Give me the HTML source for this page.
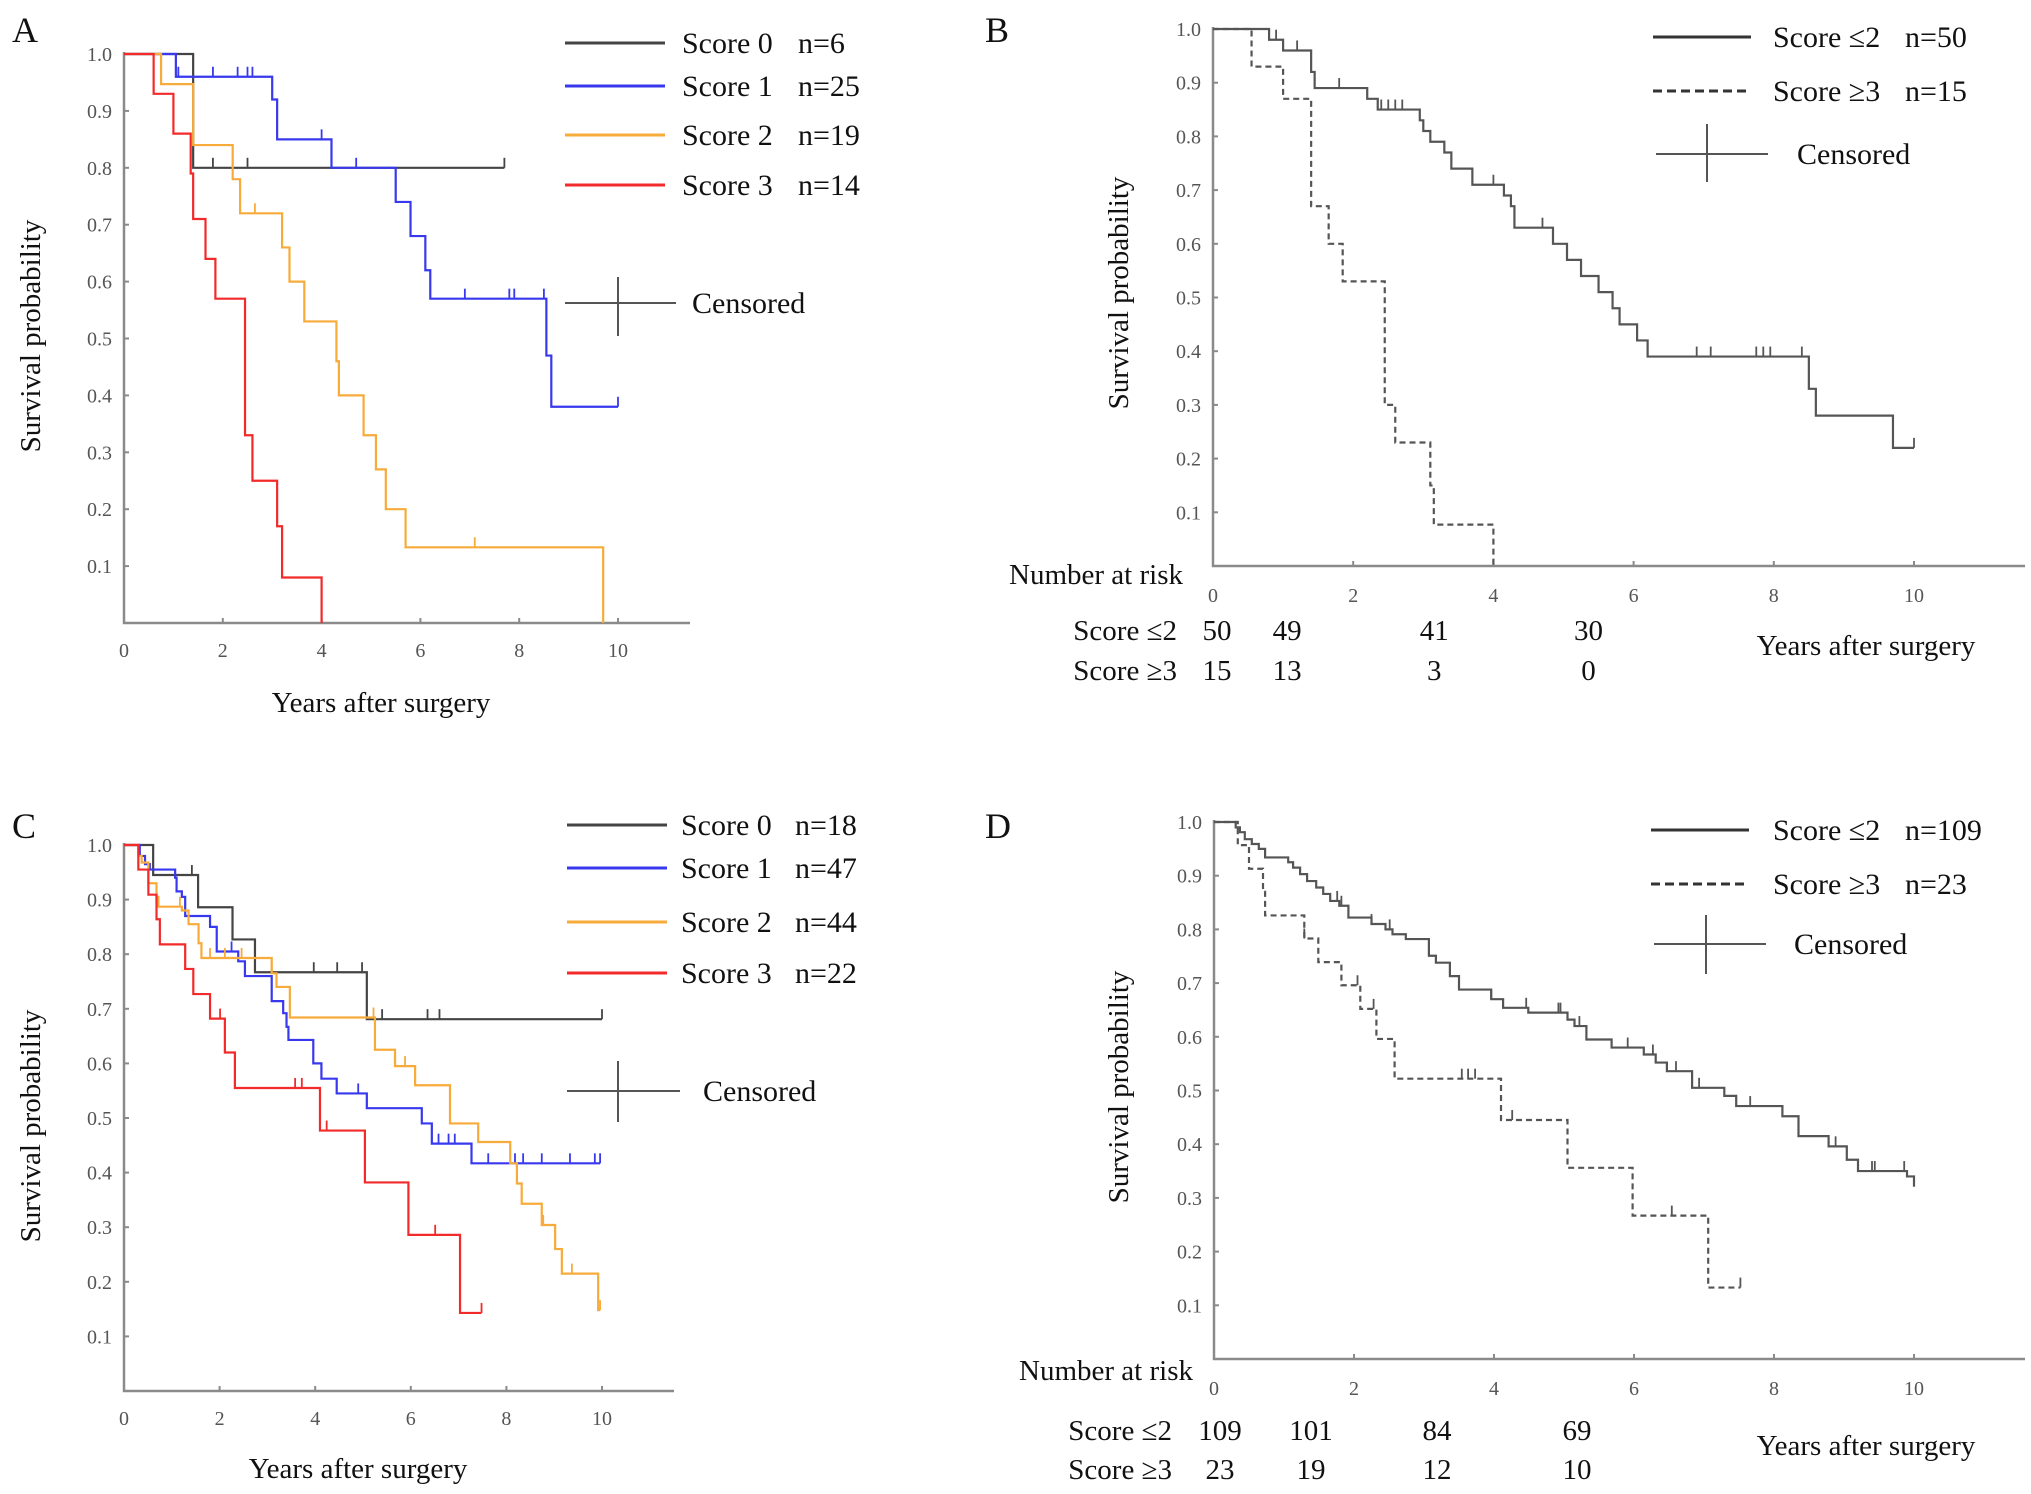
<!DOCTYPE html>
<html><head><meta charset="utf-8">
<style>
html,body{margin:0;padding:0;background:#fff;}
svg{display:block;font-family:"Liberation Serif",serif;}
</style></head>
<body>
<svg id="fig" width="2031" height="1494" viewBox="0 0 2031 1494" xmlns="http://www.w3.org/2000/svg">
<rect width="2031" height="1494" fill="#fff"/>
</svg>
<script>
// ---------- Panel A data ----------
const a0Times=[1.4], a0Surv=[0.8], a0Cens=[1.8,2.5,7.7], a0End=7.7;
const a1Times=[1.05,3.0,3.1,4.2,5.5,5.8,6.1,6.2,8.55,8.65];
const a1Surv=[0.96,0.92,0.85,0.80,0.74,0.68,0.62,0.57,0.47,0.38];
const a1Cens=[1.1,1.8,2.3,2.5,2.6,4.0,4.7,6.9,7.8,7.9,8.5,10], a1End=10;
const a2Times=[0.75,1.4,2.2,2.35,3.2,3.35,3.65,4.3,4.35,4.85,5.1,5.3,5.7,9.7];
const a2Surv=[0.947,0.84,0.78,0.72,0.66,0.6,0.53,0.46,0.40,0.33,0.27,0.2,0.133,0];
const a2Cens=[2.65,7.1], a2End=9.7;
const a3Times=[0.6,1.0,1.35,1.4,1.65,1.85,2.45,2.6,3.1,3.2,4.0];
const a3Surv=[0.93,0.86,0.79,0.71,0.64,0.57,0.33,0.25,0.17,0.08,0];
const a3Cens=[], a3End=4.0;
// ---------- Panel B data ----------
const b1Times=[0.8,1.0,1.4,1.45,2.2,2.35,2.95,3.0,3.1,3.3,3.4,3.7,4.15,4.25,4.3,4.85,5.05,5.25,5.5,5.7,5.8,6.05,6.2,8.5,8.6,9.7];
const b1Surv=[0.98,0.96,0.92,0.89,0.87,0.85,0.83,0.81,0.79,0.77,0.74,0.71,0.69,0.67,0.63,0.6,0.57,0.54,0.51,0.48,0.45,0.42,0.39,0.33,0.28,0.22];
const b1Cens=[0.8,0.9,1.2,1.8,2.4,2.5,2.6,2.7,4.0,4.7,6.9,7.1,7.75,7.85,7.95,8.4,10], b1End=10;
const b2Times=[0.55,1.0,1.4,1.65,1.85,2.45,2.6,3.1,3.15,4.0];
const b2Surv=[0.93,0.87,0.67,0.6,0.53,0.3,0.23,0.15,0.077,0];
const b2Cens=[], b2End=4.0;
const bRiskTimes=[0,1,3.1,5.3];
const bRisk1=[50,49,41,30];
const bRisk2=[15,13,3,0];
// ---------- Panel C data ----------
const c0Times=[0.61,1.55,2.27,2.74,5.08], c0Surv=[0.945,0.886,0.827,0.767,0.681];
const c0Cens=[1.42,3.97,4.46,4.98,5.4,6.35,6.6,10], c0End=10;
const c1Times=[0.33,0.44,0.54,1.07,1.10,1.21,1.28,1.80,1.94,2.39,2.53,3.09,3.33,3.40,3.44,3.96,4.13,4.45,5.08,6.23,6.44,7.27];
const c1Surv=[0.98,0.965,0.955,0.94,0.915,0.905,0.87,0.85,0.805,0.787,0.76,0.714,0.692,0.667,0.643,0.60,0.572,0.545,0.518,0.49,0.453,0.417];
const c1Cens=[2.25,4.90,6.58,6.79,6.92,7.62,8.18,8.35,8.74,9.33,9.85,9.96], c1End=9.96;
const c2Times=[0.30,0.37,0.51,0.68,0.72,1.21,1.35,1.56,1.62,3.09,3.19,3.47,5.25,5.67,6.09,6.82,7.41,8.08,8.22,8.32,8.74,9.02,9.16,9.92];
const c2Surv=[0.98,0.968,0.93,0.905,0.887,0.88,0.855,0.82,0.793,0.765,0.74,0.684,0.625,0.595,0.56,0.49,0.456,0.417,0.38,0.343,0.304,0.26,0.215,0.148];
const c2Cens=[1.17,1.80,2.11,2.46,3.09,5.22,5.88,8.77,9.37,9.96], c2End=9.96;
const c3Times=[0.30,0.51,0.68,0.75,1.28,1.45,1.80,2.11,2.32,4.10,5.04,5.95,7.03];
const c3Surv=[0.955,0.909,0.864,0.818,0.773,0.727,0.682,0.620,0.555,0.477,0.382,0.286,0.143];
const c3Cens=[2.01,3.58,3.72,4.24,6.51,7.48], c3End=7.48;
// ---------- Panel D data ----------
const d1Times=[0.31,0.37,0.44,0.54,0.64,0.73,1.06,1.13,1.23,1.33,1.46,1.56,1.66,1.79,1.92,2.25,2.45,2.55,2.74,3.07,3.17,3.37,3.50,3.96,4.13,4.49,5.05,5.15,5.32,5.68,6.14,6.31,6.47,6.83,7.29,7.46,8.12,8.35,8.78,9.04,9.20,9.90,10.0];
const d1Surv=[0.99,0.981,0.968,0.959,0.95,0.934,0.925,0.915,0.903,0.89,0.878,0.866,0.853,0.844,0.822,0.81,0.80,0.791,0.782,0.751,0.738,0.713,0.688,0.67,0.654,0.645,0.632,0.62,0.595,0.58,0.567,0.552,0.536,0.505,0.49,0.471,0.452,0.415,0.396,0.371,0.35,0.34,0.321];
const d1Cens=[1.76,1.82,2.25,2.51,3.96,4.46,4.92,4.95,5.22,5.91,6.27,6.60,6.93,7.66,8.88,9.40,9.44,9.86,10], d1End=10;
const d2Times=[0.34,0.50,0.70,0.73,1.29,1.49,1.82,2.09,2.32,2.58,4.10,5.05,5.98,7.06];
const d2Surv=[0.957,0.913,0.87,0.826,0.783,0.739,0.696,0.652,0.596,0.522,0.445,0.356,0.267,0.133];
const d2Cens=[1.29,2.05,2.28,3.54,3.63,3.73,4.26,6.54,7.52], d2End=7.52;
const dRiskTimes=[0,1.3,3.1,5.1];
const dRisk1=[109,101,84,69];
const dRisk2=[23,19,12,10];
// ---------- common ticks ----------
const yTickLabels=["0.1","0.2","0.3","0.4","0.5","0.6","0.7","0.8","0.9","1.0"];
const yTickVals=[0.1,0.2,0.3,0.4,0.5,0.6,0.7,0.8,0.9,1.0];
const xTickVals=[0,2,4,6,8,10];

const NS="http://www.w3.org/2000/svg";
const svg=document.getElementById('fig');
function mk(tag,attrs,parent,txt){const e=document.createElementNS(NS,tag);for(const k in attrs)e.setAttribute(k,attrs[k]);if(txt!==undefined)e.textContent=txt;(parent||svg).appendChild(e);return e;}

function panel(id,g){
  const grp=mk('g',{});
  
  
  const X=t=>g.x0+(g.x10-g.x0)*t/10;
  const Y=s=>g.yb+(g.yt-g.yb)*s;
  const ax=mk('path',{d:`M${g.x0},${g.yt-2} L${g.x0},${g.yb} L${g.xe},${g.yb}`,fill:'none',stroke:'#8a8a8a','stroke-width':2.5},grp);
  
  
  yTickVals.forEach((v,i)=>{
    mk('line',{x1:g.x0,x2:g.x0+5,y1:Y(v),y2:Y(v),stroke:'#8a8a8a','stroke-width':2},grp);
    const t=mk('text',{x:g.x0-12,y:Y(v)+7,'text-anchor':'end','font-size':20,fill:'#555'},grp,yTickLabels[i]);
    
    
  });
  xTickVals.forEach(v=>{
    mk('line',{x1:X(v),x2:X(v),y1:g.yb,y2:g.yb-5,stroke:'#8a8a8a','stroke-width':2},grp);
    const t=mk('text',{x:X(v),y:g.yb+g.xtOff,'text-anchor':'middle','font-size':20,fill:'#555'},grp,String(v));
    
    
  });
  return {grp,X,Y};
}
function km(p,times,surv,cens,end,color,dash,name){
  let d=`M${p.X(0)},${p.Y(1)}`;let s=1;
  times.forEach((t,i)=>{d+=` L${p.X(t)},${p.Y(s)} L${p.X(t)},${p.Y(surv[i])}`;s=surv[i];});
  d+=` L${p.X(end)},${p.Y(s)}`;
  const path=mk('path',{d,fill:'none',stroke:color,'stroke-width':2.2,'stroke-dasharray':dash||'none'},p.grp);
  
  
  cens.forEach(c=>{
    let sv=1;times.forEach((t,i)=>{if(t<=c)sv=surv[i];});
    const m=mk('line',{x1:p.X(c),x2:p.X(c),y1:p.Y(sv),y2:p.Y(sv)-10,stroke:color,'stroke-width':1.8},p.grp);
    
    
  });
}
function txt(x,y,s,size,name,anchor,extra){
  const t=mk('text',Object.assign({x,y,'font-size':size,fill:'#111','text-anchor':anchor||'start'},extra||{}),svg,s);
  
  
  return t;
}
function legLine(x1,x2,y,color,dash,name){
  const l=mk('line',{x1,x2,y1:y,y2:y,stroke:color,'stroke-width':3,'stroke-dasharray':dash||'none'});
  
  
}
function censLeg(x1,x2,y,vx,vy1,vy2,tx,name){
  const g=mk('g',{});
  
  
  mk('line',{x1,x2,y1:y,y2:y,stroke:'#555','stroke-width':2},g);
  mk('line',{x1:vx,x2:vx,y1:vy1,y2:vy2,stroke:'#555','stroke-width':2},g);
  const t=mk('text',{x:tx,y:y+10,'font-size':30,fill:'#111'},g,'Censored');
}
function ytitle(x,y,name){txt(x,y,'Survival probability',29,name,'middle',{transform:`rotate(-90 ${x} ${y})`,dy:10});}

const BLK='#444', BLU='#3838ee', ORA='#f7ab3a', RED='#f22a2a';

// Panel A
const pA=panel('a',{x0:124,x10:618,yt:54,yb:623,xe:690,xtOff:34});
km(pA,a0Times,a0Surv,a0Cens,a0End,BLK,null,'a-score0-curve');
km(pA,a1Times,a1Surv,a1Cens,a1End,BLU,null,'a-score1-curve');
km(pA,a2Times,a2Surv,a2Cens,a2End,ORA,null,'a-score2-curve');
km(pA,a3Times,a3Surv,a3Cens,a3End,RED,null,'a-score3-curve');
txt(12,42,'A',36,'panel-label-a');
ytitle(30,336,'a-y-axis-title');
txt(381,712,'Years after surgery',29,'a-x-axis-title','middle');
[[43,BLK,'Score 0','n=6'],[86,BLU,'Score 1','n=25'],[135,ORA,'Score 2','n=19'],[185,RED,'Score 3','n=14']].forEach((r,i)=>{
  legLine(565,665,r[0],r[1],null,'a-legend-line-'+i);
  txt(682,r[0]+10,r[2],30,'a-legend-label-'+i);
  txt(798,r[0]+10,r[3],30,'a-legend-n-'+i);
});
censLeg(565,676,303,618,277,336,692,'a-censored-legend');

// Panel B
const pB=panel('b',{x0:1213,x10:1914,yt:29,yb:566,xe:2025,xtOff:36});
km(pB,b1Times,b1Surv,b1Cens,b1End,'#555',null,'b-score-le2-curve');
km(pB,b2Times,b2Surv,b2Cens,b2End,'#555','6,4','b-score-ge3-curve');
txt(985,42,'B',36,'panel-label-b');
ytitle(1118,293,'b-y-axis-title');
legLine(1653,1751,37,'#333',null,'b-legend-solid');
legLine(1653,1751,91,'#333','9,5','b-legend-dashed');
txt(1773,47,'Score ≤2',30,'b-legend-label-le2');txt(1905,47,'n=50',30,'b-legend-n-le2');
txt(1773,101,'Score ≥3',30,'b-legend-label-ge3');txt(1905,101,'n=15',30,'b-legend-n-ge3');
censLeg(1656,1768,154,1707,124,182,1797,'b-censored-legend');
txt(1183,584,'Number at risk',29,'b-number-at-risk-title','end');
txt(1177,640,'Score ≤2',29,'b-risk-row-le2','end');
txt(1177,680,'Score ≥3',29,'b-risk-row-ge3','end');
bRiskTimes.forEach((t,i)=>{
  txt(pB.X(t)+4,640,String(bRisk1[i]),29,'b-risk-le2-value','middle');
  txt(pB.X(t)+4,680,String(bRisk2[i]),29,'b-risk-ge3-value','middle');
});
txt(1866,655,'Years after surgery',29,'b-x-axis-title','middle');

// Panel C
const pC=panel('c',{x0:124,x10:602,yt:845,yb:1391,xe:674,xtOff:34});
km(pC,c0Times,c0Surv,c0Cens,c0End,BLK,null,'c-score0-curve');
km(pC,c1Times,c1Surv,c1Cens,c1End,BLU,null,'c-score1-curve');
km(pC,c2Times,c2Surv,c2Cens,c2End,ORA,null,'c-score2-curve');
km(pC,c3Times,c3Surv,c3Cens,c3End,RED,null,'c-score3-curve');
txt(12,838,'C',36,'panel-label-c');
ytitle(30,1126,'c-y-axis-title');
txt(358,1478,'Years after surgery',29,'c-x-axis-title','middle');
[[825,BLK,'Score 0','n=18'],[868,BLU,'Score 1','n=47'],[922,ORA,'Score 2','n=44'],[973,RED,'Score 3','n=22']].forEach((r,i)=>{
  legLine(567,667,r[0],r[1],null,'c-legend-line-'+i);
  txt(681,r[0]+10,r[2],30,'c-legend-label-'+i);
  txt(795,r[0]+10,r[3],30,'c-legend-n-'+i);
});
censLeg(567,680,1091,618,1061,1122,703,'c-censored-legend');

// Panel D
const pD=panel('d',{x0:1214,x10:1914,yt:822,yb:1359,xe:2025,xtOff:36});
km(pD,d1Times,d1Surv,d1Cens,d1End,'#555',null,'d-score-le2-curve');
km(pD,d2Times,d2Surv,d2Cens,d2End,'#555','6,4','d-score-ge3-curve');
txt(985,838,'D',36,'panel-label-d');
ytitle(1118,1087,'d-y-axis-title');
legLine(1651,1749,830,'#333',null,'d-legend-solid');
legLine(1651,1749,884,'#333','9,5','d-legend-dashed');
txt(1773,840,'Score ≤2',30,'d-legend-label-le2');txt(1905,840,'n=109',30,'d-legend-n-le2');
txt(1773,894,'Score ≥3',30,'d-legend-label-ge3');txt(1905,894,'n=23',30,'d-legend-n-ge3');
censLeg(1654,1766,944,1706,915,974,1794,'d-censored-legend');
txt(1193,1380,'Number at risk',29,'d-number-at-risk-title','end');
txt(1172,1440,'Score ≤2',29,'d-risk-row-le2','end');
txt(1172,1479,'Score ≥3',29,'d-risk-row-ge3','end');
dRiskTimes.forEach((t,i)=>{
  txt(pD.X(t)+6,1440,String(dRisk1[i]),29,'d-risk-le2-value','middle');
  txt(pD.X(t)+6,1479,String(dRisk2[i]),29,'d-risk-ge3-value','middle');
});
txt(1866,1455,'Years after surgery',29,'d-x-axis-title','middle');
</script>
</body></html>
